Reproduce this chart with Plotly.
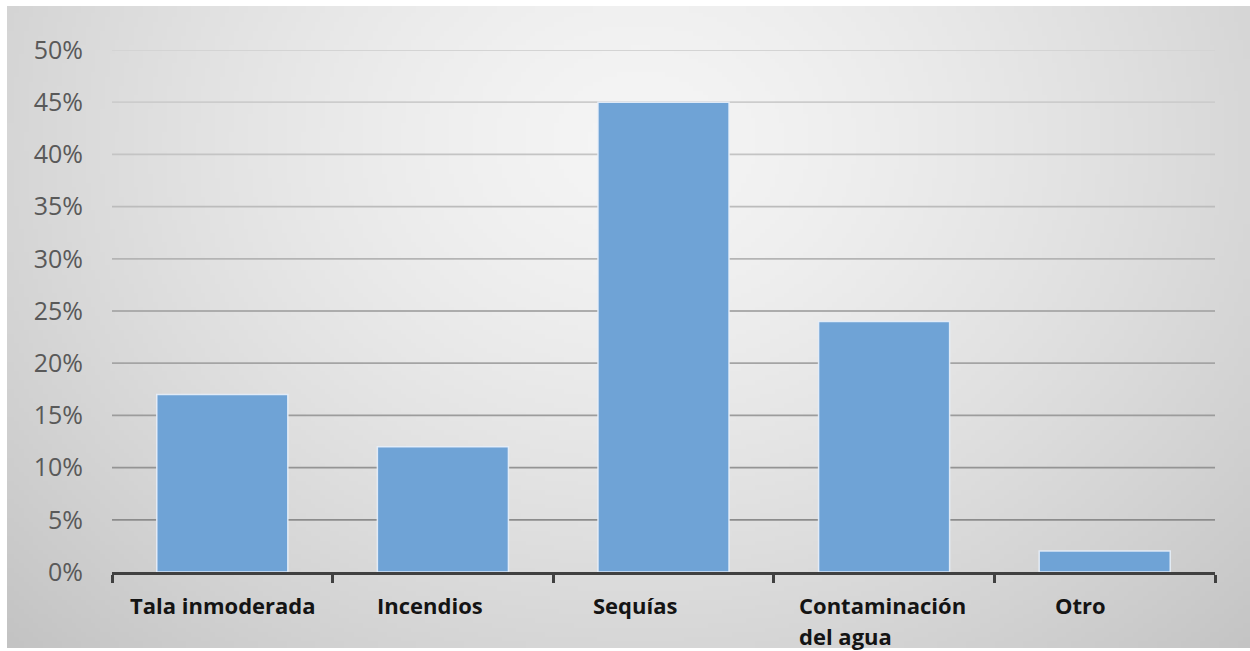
import base64, struct, zlib
import numpy as np
import plotly.graph_objects as go

# ---- data ----
categories = ["Tala inmoderada", "Incendios", "Sequías", "Contaminación del agua", "Otro"]
values = [0.17, 0.12, 0.45, 0.24, 0.02]
label_lines = [["Tala inmoderada"], ["Incendios"], ["Sequías"], ["Contaminación", "del agua"], ["Otro"]]
y_ticks = [0.0, 0.05, 0.10, 0.15, 0.20, 0.25, 0.30, 0.35, 0.40, 0.45, 0.50]

# ---- figure geometry ----
W, H = 1250, 651
ML, MR, MT, MB = 112, 35, 50, 79
PW, PH = W - ML - MR, H - MT - MB

# background: radial grey gradient as an image
BX0, BY0, BX1, BY1 = 7, 6, 1250, 648
iw, ih = 260, 140
xs = np.linspace(BX0, BX1, iw)
ys = np.linspace(BY0, BY1, ih)
X, Y = np.meshgrid(xs, ys)
cx, cy = 640, 140
d = np.sqrt(((X - cx) / 760.0) ** 2 + ((Y - cy) / 620.0) ** 2)
g = np.clip(245 - 40 * d ** 1.4, 0, 255).astype(np.uint8)


def png_uri(a):
    h, w = a.shape
    raw = b"".join(b"\x00" + a[r].tobytes() for r in range(h))

    def chunk(t, data):
        c = struct.pack(">I", len(data)) + t + data
        return c + struct.pack(">I", zlib.crc32(t + data) & 0xFFFFFFFF)

    png = b"\x89PNG\r\n\x1a\n" + chunk(b"IHDR", struct.pack(">IIBBBBB", w, h, 8, 0, 0, 0, 0)) \
        + chunk(b"IDAT", zlib.compress(raw, 9)) + chunk(b"IEND", b"")
    return "data:image/png;base64," + base64.b64encode(png).decode()


fig = go.Figure()
fig.add_trace(go.Bar(
    x=categories, y=values,
    marker=dict(color="#6fa3d6", line=dict(color="rgba(232,240,250,0.9)", width=1.5)),
    hoverinfo="x+y",
))

# graded gridlines
shapes = []
for v in y_ticks[1:]:
    gv = int(140 + (v - 0.05) * 162)
    shapes.append(dict(type="line", xref="paper", yref="y", x0=0, x1=1, y0=v, y1=v,
                       line=dict(color=f"rgb({gv},{gv},{gv})", width=1.8), layer="below"))

# category labels
LABEL_FONT = dict(family="Open Sans", size=22, color="#141414", weight="bold")
centers_shift = [1, -13, -29, None, -24]
annotations = []
for i, lines in enumerate(label_lines):
    if len(lines) == 1:
        annotations.append(dict(x=categories[i], y=0, xref="x", yref="paper", text=lines[0],
                                showarrow=False, xanchor="center", yanchor="middle",
                                xshift=centers_shift[i], yshift=-33, font=LABEL_FONT))
    else:
        for j, ln in enumerate(lines):
            annotations.append(dict(x=categories[i], y=0, xref="x", yref="paper", text=ln,
                                    showarrow=False, xanchor="left", yanchor="middle",
                                    xshift=-87, yshift=-33 - 31 * j, font=LABEL_FONT))

fig.update_layout(
    width=W, height=H,
    margin=dict(l=ML, r=MR, t=MT, b=MB),
    paper_bgcolor="white",
    plot_bgcolor="rgba(0,0,0,0)",
    bargap=0.406,
    showlegend=False,
    shapes=shapes,
    annotations=annotations,
    images=[dict(source=png_uri(g), xref="paper", yref="paper",
                 x=(BX0 - ML) / PW, y=(H - MB - BY0) / PH,
                 sizex=(BX1 - BX0) / PW, sizey=(BY1 - BY0) / PH,
                 xanchor="left", yanchor="top", sizing="stretch", layer="below")],
    xaxis=dict(showticklabels=False, showgrid=False, showline=True, linecolor="#404040",
               linewidth=3, ticks="outside", tickson="boundaries", ticklen=8, tickwidth=3,
               tickcolor="#404040", fixedrange=True),
    yaxis=dict(range=[0, 0.5], tickvals=y_ticks, tickformat=".0%", showgrid=False,
               zeroline=False, showline=False, ticklabelstandoff=28,
               tickfont=dict(family="Open Sans", size=25, color="#595959"), fixedrange=True),
)

fig.write_html("out.html")
